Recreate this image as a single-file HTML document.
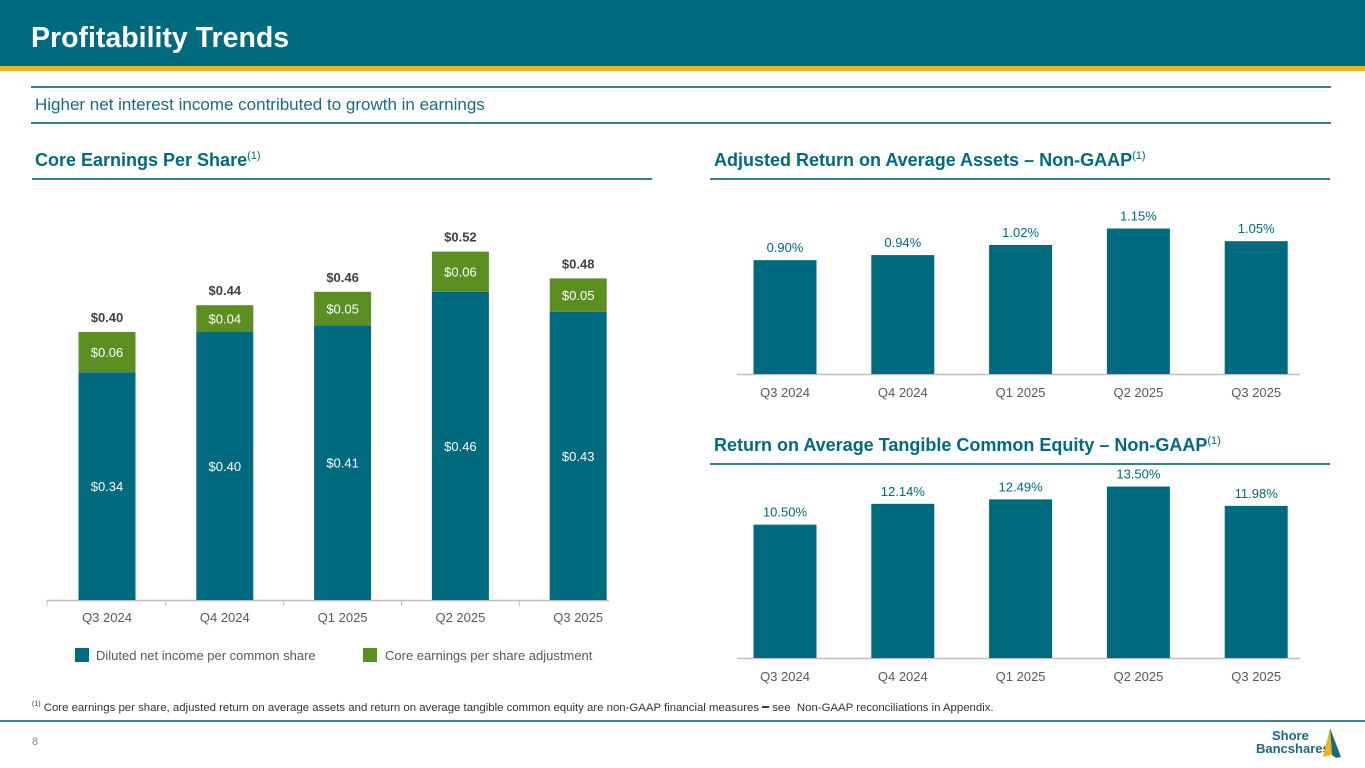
<!DOCTYPE html>
<html><head><meta charset="utf-8"><style>
body{margin:0;width:1365px;height:768px;overflow:hidden;background:#fff;font-family:"Liberation Sans",sans-serif;position:relative}
.abs{position:absolute}
.h{color:#006a7f;font-weight:bold;font-size:18px}
.line{position:absolute;height:2px;background:#3a7f8c}
svg text{font-family:"Liberation Sans",sans-serif}
</style></head><body>
<div class="abs" style="left:0;top:0;width:1365px;height:66px;background:#006a7f"></div>
<div class="abs" style="left:0;top:66px;width:1365px;height:5px;background:#e8b621"></div>
<div class="abs" style="left:31px;top:22px;color:#fff;font-weight:bold;font-size:28.5px">Profitability Trends</div>
<div class="line" style="left:31px;top:86px;width:1300px"></div>
<div class="abs" style="left:35px;top:95px;color:#1a6c7c;font-size:17px">Higher net interest income contributed to growth in earnings</div>
<div class="line" style="left:31px;top:122px;width:1300px"></div>
<div class="abs h" style="left:35px;top:150px">Core Earnings Per Share<sup style="font-weight:normal;font-size:11px">(1)</sup></div>
<div class="line" style="left:32px;top:178px;width:620px"></div>
<div class="abs h" style="left:714px;top:150px">Adjusted Return on Average Assets – Non-GAAP<sup style="font-weight:normal;font-size:11px">(1)</sup></div>
<div class="line" style="left:710px;top:178px;width:620px"></div>
<div class="abs h" style="left:714px;top:435px">Return on Average Tangible Common Equity – Non-GAAP<sup style="font-weight:normal;font-size:11px">(1)</sup></div>
<div class="line" style="left:710px;top:463px;width:620px"></div>
<div class="abs" style="left:32px;top:700px;font-size:11.4px;color:#333"><sup style="font-size:7px">(1)</sup> Core earnings per share, adjusted return on average assets and return on average tangible common equity are non-GAAP financial measures ━ see&nbsp; Non-GAAP reconciliations in Appendix.</div>
<div class="abs" style="left:0;top:720px;width:1365px;height:2px;background:#3a8a94"></div>
<div class="abs" style="left:32px;top:736px;font-size:11px;color:#888">8</div>
<div class="abs" style="left:1256px;top:730px;width:90px;height:32px">
<div style="position:absolute;left:16px;top:0;font-size:13px;font-weight:bold;color:#1a6c7c;line-height:12px">Shore</div>
<div style="position:absolute;left:0;top:12px;font-size:13px;font-weight:bold;color:#1a6c7c;line-height:13px">Bancshares</div>
<svg style="position:absolute;left:62px;top:-4px" width="30" height="36"><polygon points="12,2 5,31 14,29" fill="#e8b621"/><polygon points="12,2 14,29 18,32 23,31" fill="#1a6c7c"/></svg>
</div>
<svg id="chart" width="1365" height="768" class="abs" style="left:0;top:0"></svg>
<script>
const cats=["Q3 2024","Q4 2024","Q1 2025","Q2 2025","Q3 2025"];
const diluted=[0.34,0.40,0.41,0.46,0.43];
const adjust=[0.06,0.04,0.05,0.06,0.05];
const totals=[0.40,0.44,0.46,0.52,0.48];
const roaa=[0.90,0.94,1.02,1.15,1.05];
const rotce=[10.50,12.14,12.49,13.50,11.98];
const NS="http://www.w3.org/2000/svg",svg=document.getElementById('chart');
const TEAL="#006a7f",GREEN="#5b8f22";
function el(t,a,txt){const e=document.createElementNS(NS,t);for(const k in a)e.setAttribute(k,a[k]);if(txt!=null)e.textContent=txt;svg.appendChild(e);return e;}
// EPS
const eBase=600,eK=670,eX=i=>107+i*117.8;
const ax=el('line',{x1:47,y1:eBase+0.5,x2:609,y2:eBase+0.5,stroke:'#bfbfbf','stroke-width':1.5});

cats.forEach((c,i)=>{
 const x=eX(i),w=57,h1=diluted[i]*eK,h2=adjust[i]*eK;
 const b=el('rect',{x:x-w/2,y:eBase-h1,width:w,height:h1,fill:TEAL});
 
 const g=el('rect',{x:x-w/2,y:eBase-h1-h2,width:w,height:h2,fill:GREEN});
 
 const t1=el('text',{x:x,y:eBase-h1/2+5,'text-anchor':'middle','font-size':13,fill:'#fff'},'$'+diluted[i].toFixed(2));
 
 const t2=el('text',{x:x,y:eBase-h1-h2/2+5,'text-anchor':'middle','font-size':13,fill:'#fff'},'$'+adjust[i].toFixed(2));
 
 const t3=el('text',{x:x,y:eBase-totals[i]*eK-10,'text-anchor':'middle','font-size':13,'font-weight':'bold',fill:'#404040'},'$'+totals[i].toFixed(2));
 
 if(i<cats.length-1){
 const tk=el('line',{x1:x+58.9,y1:eBase,x2:x+58.9,y2:eBase+6,stroke:'#bfbfbf'});
 }
 const xl=el('text',{x:x,y:eBase+22,'text-anchor':'middle','font-size':13,fill:'#595959'},c);
 
});
const t0=el('line',{x1:47,y1:eBase,x2:47,y2:eBase+6,stroke:'#bfbfbf'});

const l1=el('rect',{x:75,y:648,width:14,height:14,fill:TEAL});
const l1t=el('text',{x:96,y:660,'font-size':13,fill:'#595959'},'Diluted net income per common share');
const l2=el('rect',{x:363,y:648,width:14,height:14,fill:GREEN});
const l2t=el('text',{x:385,y:660,'font-size':13,fill:'#595959'},'Core earnings per share adjustment');
// right charts
function small(vals,base,k,fmt,pre){
 const xs=i=>785+i*117.8;
 const a=el('line',{x1:737,y1:base+0.5,x2:1300,y2:base+0.5,stroke:'#bfbfbf','stroke-width':1.5});
 
 vals.forEach((v,i)=>{
  const x=xs(i),w=63,h=v*k;
  const r=el('rect',{x:x-w/2,y:base-h,width:w,height:h,fill:TEAL});
  
  const t=el('text',{x:x,y:base-h-8,'text-anchor':'middle','font-size':13,fill:TEAL},fmt(v));
  
  const xl=el('text',{x:x,y:base+23,'text-anchor':'middle','font-size':13,fill:'#595959'},cats[i]);
  
 });
}
small(roaa,374,126.5,v=>v.toFixed(2)+'%','roaa');
small(rotce,658,12.7,v=>v.toFixed(2)+'%','rotce');
</script>
</body></html>
